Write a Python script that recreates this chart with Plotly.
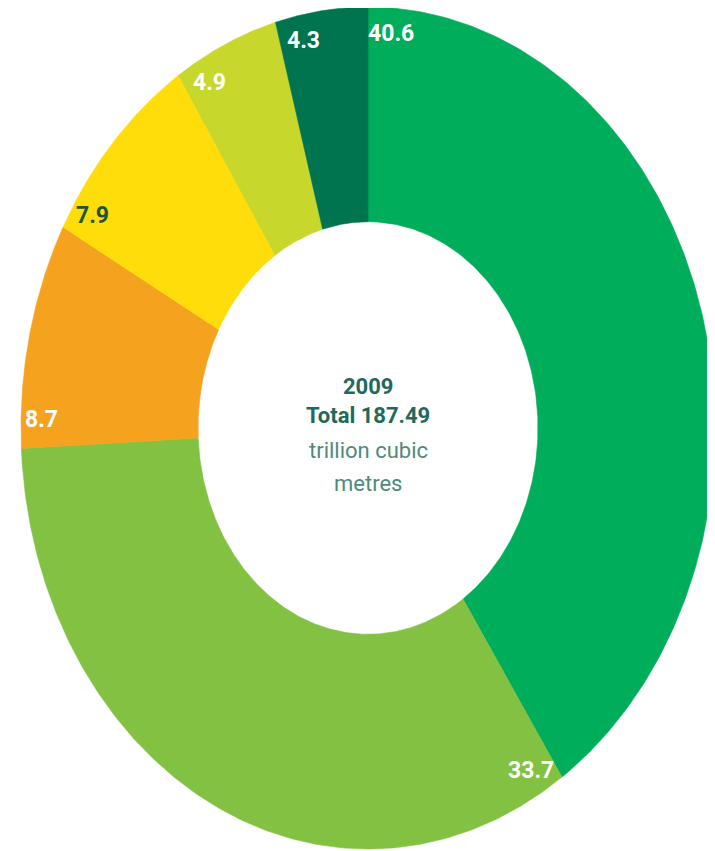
import numpy as np
import plotly.graph_objects as go

# ---- data ----
regions = ["Middle East", "Europe & Eurasia", "Asia Pacific", "Africa",
           "North America", "South & Central America"]
shares = [40.6, 33.7, 8.7, 7.9, 4.9, 4.3]
center_year = "2009"
center_total = "Total 187.49"
center_unit = ["trillion cubic", "metres"]

# ---- style ----
colors = ["#00AD5B", "#83C143", "#F5A21E", "#FFDD0A", "#C8D72B", "#00734F"]
label_colors = ["white", "white", "white", "#1E5533", "white", "white"]
hole = 0.49
PAGE_OFF = 8                      # default body margin of the html page
W, H = 715 - PAGE_OFF, 851 - PAGE_OFF
cx_px, cy_px = 368 - PAGE_OFF, 428 - PAGE_OFF
rx_px, ry_px = 347, 421
FONT = "Roboto, Arial, sans-serif"

fig = go.Figure()
total = sum(shares)
cum = np.concatenate([[0.0], np.cumsum(shares)])
annotations = []
for i, (name, v) in enumerate(zip(regions, shares)):
    a0 = cum[i] / total * 2 * np.pi
    a1 = cum[i + 1] / total * 2 * np.pi
    th = np.linspace(a0, a1, 200)
    xs = np.concatenate([np.sin(th), hole * np.sin(th[::-1]), [np.sin(th[0])]])
    ys = np.concatenate([np.cos(th), hole * np.cos(th[::-1]), [np.cos(th[0])]])
    fig.add_trace(go.Scatter(
        x=xs, y=ys, mode="lines", fill="toself",
        fillcolor=colors[i], line=dict(color=colors[i], width=0.6),
        name=name, hoverinfo="text", text=f"{name}: {v}%",
    ))
    la = a0 + np.deg2rad(4.0)
    r = 0.94
    annotations.append(dict(
        x=r * np.sin(la), y=r * np.cos(la), text=f"<b>{v:.1f}</b>",
        showarrow=False, xanchor="center", yanchor="middle",
        font=dict(family=FONT, size=23, color=label_colors[i]),
    ))

center_lines = [
    (f"<b>{center_year}</b>", "#21695A", 42),
    (f"<b>{center_total}</b>", "#21695A", 13),
    (center_unit[0], "#4F8A7C", -22),
    (center_unit[1], "#4F8A7C", -55),
]
for txt, col, shift in center_lines:
    annotations.append(dict(
        x=0, y=0, xanchor="center", yanchor="middle", yshift=shift,
        showarrow=False, text=txt,
        font=dict(family=FONT, size=22, color=col),
    ))

fig.update_layout(
    width=W, height=H,
    margin=dict(l=0, r=0, t=0, b=0),
    paper_bgcolor="white", plot_bgcolor="white",
    showlegend=False,
    xaxis=dict(range=[-cx_px / rx_px, (W - cx_px) / rx_px], visible=False, fixedrange=True),
    yaxis=dict(range=[-(H - cy_px) / ry_px, cy_px / ry_px], visible=False, fixedrange=True),
    annotations=annotations,
)

fig.write_html("out.html")
